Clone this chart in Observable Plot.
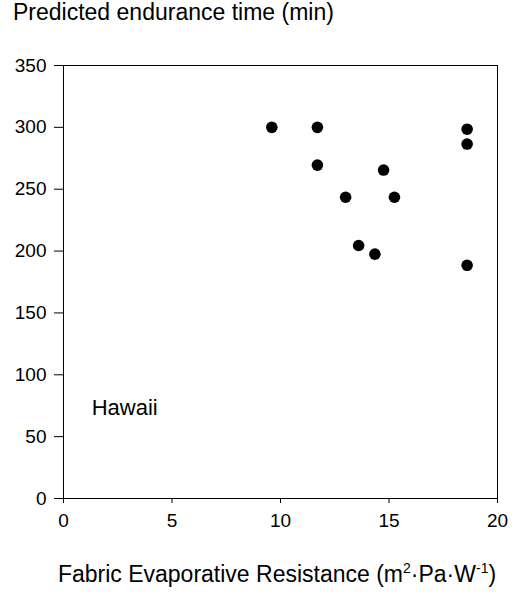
<!DOCTYPE html>
<html><head><meta charset="utf-8">
<script src="https://cdn.jsdelivr.net/npm/d3@7"></script>
<script src="https://cdn.jsdelivr.net/npm/@observablehq/plot@0.6"></script>
<style>
body{margin:0;background:#fff;font-family:"Liberation Sans",Arial,sans-serif;color:#000;}
#title{position:absolute;left:13px;top:1px;font-size:23px;line-height:1;white-space:nowrap;}
#xlabel{position:absolute;left:0;width:554px;text-align:center;top:563px;font-size:23px;line-height:1;white-space:nowrap;}
#chart{position:absolute;left:0;top:45px;}
sup{font-size:14px;vertical-align:9px;line-height:0;}
</style></head>
<body>
<div id="title">Predicted endurance time (min)</div>
<div id="chart"></div>
<div id="xlabel">Fabric Evaporative Resistance (m<sup>2</sup>·Pa·W<sup>-1</sup>)</div>
<script>
const resistance = [9.6, 11.7, 18.6, 18.6, 11.7, 14.75, 13.0, 15.25, 13.6, 14.35, 18.6];
const endurance  = [300, 300, 298.5, 286.5, 269.5, 265.5, 243.5, 243.5, 204.5, 197.5, 188.5];
const xTicks = [0, 5, 10, 15, 20];
const yTicks = [0, 50, 100, 150, 200, 250, 300, 350];
const labelText = ["Hawaii"];
const labelX = [1.3];
const labelY = [73];

const data = resistance.map((x, i) => ({x, y: endurance[i]}));
const labels = labelText.map((t, i) => ({t, x: labelX[i], y: labelY[i]}));

const chart = Plot.plot({
  width: 515,
  height: 493,
  marginLeft: 63,
  marginRight: 18,
  marginTop: 20,
  marginBottom: 40,
  style: {fontFamily: '"Liberation Sans", Arial, sans-serif', fontSize: "19px", color: "#000", background: "#fff", overflow: "visible"},
  x: {domain: [0, 20], label: null},
  y: {domain: [0, 350], label: null},
  marks: [
    Plot.frame({stroke: "#000", strokeWidth: 1}),
    Plot.axisX({ticks: xTicks, tickSize: 5, tickPadding: 10, label: null, fontSize: 19}),
    Plot.axisY({ticks: yTicks, tickSize: 9, tickPadding: 8, label: null, fontSize: 19}),
    Plot.dot(data, {x: "x", y: "y", r: 5.8, fill: "#000", stroke: null}),
    Plot.text(labels, {x: "x", y: "y", text: "t", textAnchor: "start", fontSize: 22, fill: "#000"})
  ]
});
document.getElementById("chart").appendChild(chart);
</script>
</body></html>
